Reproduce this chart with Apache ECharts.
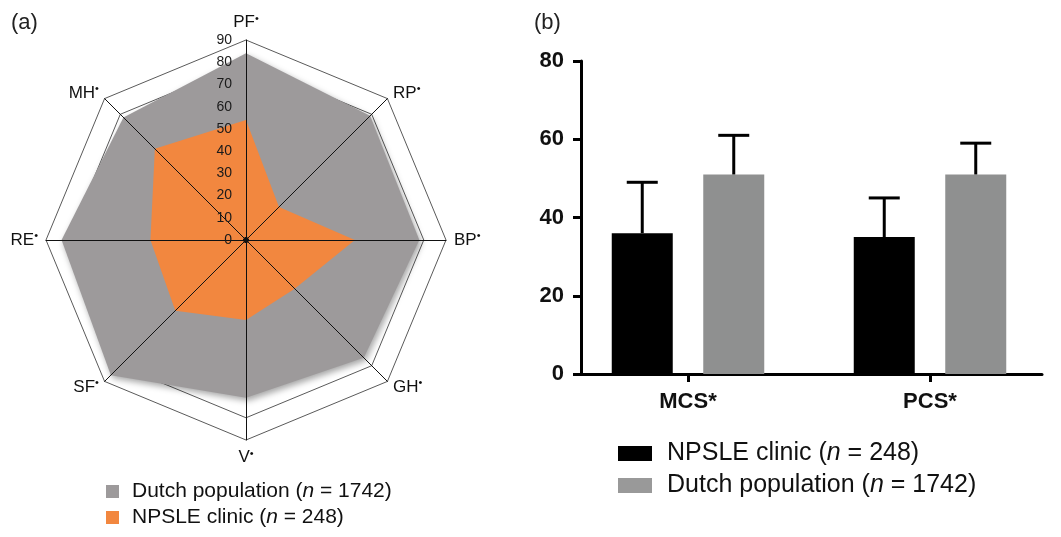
<!DOCTYPE html>
<html><head><meta charset="utf-8">
<script src="https://cdn.jsdelivr.net/npm/echarts@6/dist/echarts.min.js"></script>
<style>html,body{margin:0;padding:0;background:#fff;}#c{width:1061px;height:537px;}</style>
</head><body><div id="c"></div>
<script>
// ---- data ----
const radarAxes = ['PF', 'MH', 'RE', 'SF', 'V', 'GH', 'BP', 'RP']; // from top, counter-clockwise
const radarMax = 90;
const dutchRadar = [84, 78, 83, 86, 71, 75, 78, 79];
const npsleRadar = [54, 58, 43, 45, 36, 31, 49, 21];
const barCategories = ['MCS*', 'PCS*'];
const npsleMean = [36, 35];
const npsleUpper = [49, 45];
const dutchMean = [51, 51];
const dutchUpper = [61, 59];
const nDutch = 1742;
const nNpsle = 248;
const nameDutch = 'Dutch population';
const nameNpsle = 'NPSLE clinic';

const FONT = "'Liberation Sans', Arial, Helvetica, sans-serif";
const nMap = {};
nMap[nameDutch] = nDutch;
nMap[nameNpsle] = nNpsle;
function legendFmt(name) {
  return '{t|' + name + ' (}{i|n}{t| = ' + nMap[name] + ')}';
}

const BAR_W = 61;
function errorRender(which) {
  return function (params, api) {
    const cat = api.value(0), lo = api.value(1), hi = api.value(2);
    let off;
    try {
      const lay = api.barLayout({ count: 2, barWidth: BAR_W, barGap: '50%' });
      off = lay[which].offsetCenter;
    } catch (e) { off = (which === 0 ? -1 : 1) * BAR_W * 0.75; }
    const p0 = api.coord([cat, lo]);
    const p1 = api.coord([cat, hi]);
    const x = p0[0] + off;
    return {
      type: 'group',
      children: [
        { type: 'line', shape: { x1: x, y1: p0[1], x2: x, y2: p1[1] }, style: { stroke: '#000', lineWidth: 3 } },
        { type: 'line', shape: { x1: x - 15.5, y1: p1[1], x2: x + 15.5, y2: p1[1] }, style: { stroke: '#000', lineWidth: 3 } }
      ]
    };
  };
}

const indicators = radarAxes.map(n => ({ name: n, min: 0, max: radarMax }));
const ringColors = ['rgba(0,0,0,0)', 'rgba(0,0,0,0)', 'rgba(0,0,0,0)', 'rgba(0,0,0,0)', 'rgba(0,0,0,0)',
  'rgba(0,0,0,0)', 'rgba(0,0,0,0)', 'rgba(0,0,0,0)', '#5a5a5a', '#5a5a5a'];

const chart = echarts.init(document.getElementById('c'), null, { renderer: 'canvas' });
const option = {
  backgroundColor: '#ffffff',
  textStyle: { fontFamily: FONT },
  animation: false,
  title: [
    { text: '(a)', left: 6, top: 7, textStyle: { fontSize: 22, fontWeight: 'normal', color: '#222', fontFamily: FONT } },
    { text: '(b)', left: 529, top: 7, textStyle: { fontSize: 22, fontWeight: 'normal', color: '#222', fontFamily: FONT } }
  ],
  legend: [
    {
      orient: 'vertical', left: 101, top: 476,
      itemWidth: 13, itemHeight: 13, itemGap: 5,
      icon: 'rect',
      data: [
        { name: nameDutch, itemStyle: { color: '#9d9a9b' } },
        { name: nameNpsle, itemStyle: { color: '#f2873f' } }
      ],
      formatter: legendFmt,
      textStyle: {
        fontFamily: FONT, color: '#111', padding: [0, 0, 0, 8],
        rich: {
          t: { fontSize: 21, fontFamily: FONT, color: '#111', lineHeight: 22 },
          i: { fontSize: 21, fontFamily: FONT, color: '#111', fontStyle: 'italic', lineHeight: 22 }
        }
      },
      selectedMode: false
    },
    {
      orient: 'vertical', left: 613, top: 436,
      itemWidth: 34, itemHeight: 15, itemGap: 7,
      icon: 'rect',
      data: [
        { name: nameNpsle, itemStyle: { color: '#000000' } },
        { name: nameDutch, itemStyle: { color: '#999999' } }
      ],
      formatter: legendFmt,
      textStyle: {
        fontFamily: FONT, color: '#111', padding: [0, 0, 0, 10],
        rich: {
          t: { fontSize: 25, fontFamily: FONT, color: '#111', lineHeight: 27 },
          i: { fontSize: 25, fontFamily: FONT, color: '#111', fontStyle: 'italic', lineHeight: 27 }
        }
      },
      selectedMode: false
    }
  ],
  radar: [
    {
      center: [246, 240], radius: 200, startAngle: 90, splitNumber: 9, shape: 'polygon',
      indicator: indicators, z: 1,
      axisName: {
        formatter: function (n) { return '{a|' + n + '}{b|•}'; },
        rich: {
          a: { fontSize: 17, color: '#111', fontFamily: FONT },
          b: { fontSize: 11, color: '#111', padding: [0, 0, 8, 0], fontFamily: FONT }
        }
      },
      nameGap: 8,
      axisLine: { show: false },
      axisTick: { show: false },
      axisLabel: { show: false },
      splitArea: { show: false },
      splitLine: { show: true, lineStyle: { color: ringColors, width: 1 } }
    },
    {
      center: [246, 240], radius: 200, startAngle: 90, splitNumber: 9, shape: 'polygon',
      indicator: indicators, z: 5,
      axisName: { show: false },
      axisLine: { show: true, symbol: ['circle', 'none'], symbolSize: [5, 5], lineStyle: { color: '#111', width: 1 } },
      axisTick: { show: false },
      axisLabel: { show: false },
      splitArea: { show: false },
      splitLine: { show: false }
    }
  ],
  grid: [
    { left: 581, width: 461, top: 61, height: 313, outerBoundsMode: 'none' },
    { left: 567, width: 484, top: 61, height: 313, outerBoundsMode: 'none' },
    { left: 246, width: 1, top: 40, height: 200, outerBoundsMode: 'none', z: 10 }
  ],
  xAxis: [
    {
      gridIndex: 0, type: 'value', min: 0, max: 1,
      axisLine: { show: true, lineStyle: { color: '#000', width: 3 } },
      axisTick: { show: false }, axisLabel: { show: false }, splitLine: { show: false }
    },
    {
      gridIndex: 1, type: 'category', data: barCategories, boundaryGap: true,
      axisLine: { show: false },
      axisTick: { show: true, alignWithLabel: true, length: 8, lineStyle: { color: '#000', width: 3 } },
      axisLabel: { show: true, fontSize: 22, fontWeight: 'bold', color: '#111', margin: 17, fontFamily: FONT },
      splitLine: { show: false }
    },
    { gridIndex: 2, type: 'value', show: false, min: 0, max: 1 }
  ],
  yAxis: [
    {
      gridIndex: 0, type: 'value', min: 0, max: 80, interval: 20,
      axisLine: { show: true, lineStyle: { color: '#000', width: 3 } },
      axisTick: { show: true, length: 8, lineStyle: { color: '#000', width: 3 } },
      axisLabel: { fontSize: 22, fontWeight: 'bold', color: '#111', margin: 17, fontFamily: FONT },
      splitLine: { show: false }
    },
    { gridIndex: 1, type: 'value', min: 0, max: 80, show: false, splitLine: { show: false } },
    {
      gridIndex: 2, type: 'value', min: 0, max: radarMax, interval: 10, z: 10,
      axisLine: { show: false }, axisTick: { show: false }, splitLine: { show: false },
      axisLabel: { fontSize: 14, color: '#1a1a1a', margin: 14, fontFamily: FONT }
    }
  ],
  series: [
    {
      type: 'radar', radarIndex: 0, symbol: 'none', z: 2,
      lineStyle: { width: 0 },
      data: [
        {
          name: nameDutch, value: dutchRadar,
          itemStyle: { color: '#9d9a9b' },
          areaStyle: { color: '#9d9a9b', opacity: 1, shadowBlur: 6, shadowColor: 'rgba(0,0,0,0.35)', shadowOffsetX: 2, shadowOffsetY: 3 }
        },
        {
          name: nameNpsle, value: npsleRadar,
          itemStyle: { color: '#f2873f' },
          areaStyle: { color: '#f2873f', opacity: 1 }
        }
      ]
    },
    {
      name: nameNpsle, type: 'bar', xAxisIndex: 1, yAxisIndex: 1,
      barWidth: BAR_W, barGap: '50%', data: npsleMean, itemStyle: { color: '#000000' }
    },
    {
      name: nameDutch, type: 'bar', xAxisIndex: 1, yAxisIndex: 1,
      barWidth: BAR_W, barGap: '50%', data: dutchMean, itemStyle: { color: '#8f9090' }
    },
    {
      type: 'custom', xAxisIndex: 1, yAxisIndex: 1, z: 5,
      renderItem: errorRender(0),
      data: barCategories.map((c, i) => [i, npsleMean[i], npsleUpper[i]])
    },
    {
      type: 'custom', xAxisIndex: 1, yAxisIndex: 1, z: 5,
      renderItem: errorRender(1),
      data: barCategories.map((c, i) => [i, dutchMean[i], dutchUpper[i]])
    }
  ]
};
chart.setOption(option);
</script></body></html>
